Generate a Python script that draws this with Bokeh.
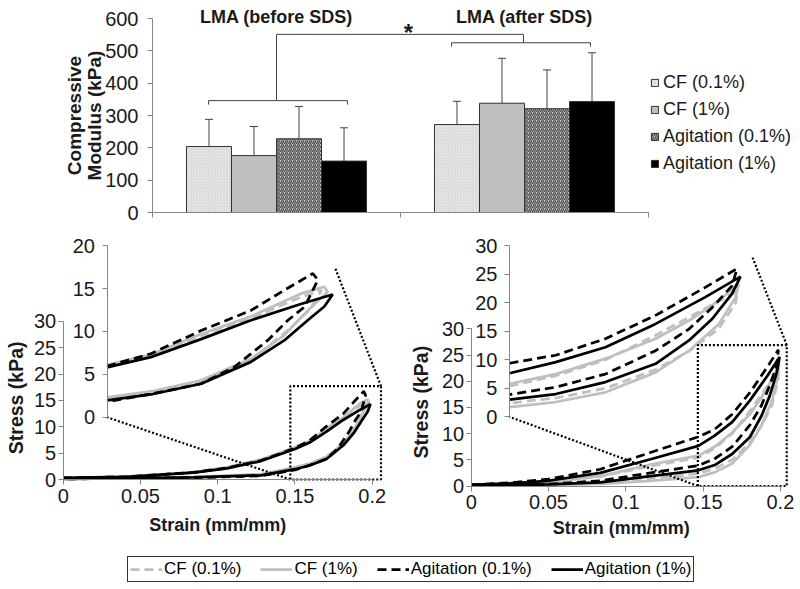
import math
import numpy as np
from bokeh.plotting import figure
from bokeh.layouts import column, row
from bokeh.models import (ColumnDataSource, Range1d, LinearAxis, FixedTicker, Legend,
                          LegendItem, Label, Whisker, TeeHead)
from bokeh.embed import file_html
from bokeh.resources import INLINE

# ------------------------------------------------------------------ bar chart data
groups = ["LMA (before SDS)", "LMA (after SDS)"]
series = ["CF (0.1%)", "CF (1%)", "Agitation (0.1%)", "Agitation (1%)"]
modulus_before = [204, 176, 228, 159]
modulus_after = [272, 338, 321, 343]
sd_before = [84, 90, 100, 103]
sd_after = [72, 139, 120, 151]
modulus_ticks = [0, 100, 200, 300, 400, 500, 600]

# significance brackets (x in group units, y in kPa)
bracket_before_x = [0.226, 0.786]
bracket_after_x = [1.206, 1.766]
bracket_link_x = [0.5, 1.496]
bracket_before_y = 346
bracket_after_y = 525
bracket_link_y = 551
bracket_drop = 12

# ------------------------------------------------------------------ stress-strain data (loading then unloading)
cf01_before_strain = [0, 0.041, 0.0845, 0.106, 0.128, 0.15, 0.1595, 0.1704, 0.1812, 0.192, 0.1965,
                      0.1955, 0.1935, 0.19, 0.1812, 0.1704, 0.1595, 0.15, 0.128, 0.0845, 0.04, 0]
cf01_before_stress = [0.3, 0.5, 1.35, 2.2, 3.7, 6.0, 7.2, 9.5, 11.5, 14.0, 14.8,
                      13.8, 12.3, 10.5, 6.6, 4.2, 2.9, 2.2, 0.9, 0.45, 0.25, 0.1]
cf1_before_strain = [0, 0.02, 0.041, 0.0845, 0.106, 0.128, 0.15, 0.1595, 0.1704, 0.1812, 0.192, 0.1971,
                     0.1978, 0.1935, 0.1884, 0.1812, 0.1704, 0.1595, 0.15, 0.128, 0.0845, 0.04, 0]
cf1_before_stress = [0.3, 0.4, 0.55, 1.4, 2.3, 3.8, 6.1, 7.3, 9.7, 11.75, 14.4, 15.2,
                     14.6, 12.45, 9.55, 6.8, 4.3, 3.0, 2.3, 1.0, 0.5, 0.3, 0.15]
ag01_before_strain = [0, 0.02, 0.041, 0.0845, 0.106, 0.128, 0.15, 0.1595, 0.1704, 0.1812, 0.1884, 0.1946,
                      0.1957, 0.1928, 0.1892, 0.1848, 0.1776, 0.1704, 0.1595, 0.15, 0.128, 0.0845, 0.04, 0]
ag01_before_stress = [0.3, 0.4, 0.5, 1.35, 2.2, 3.6, 5.95, 7.4, 10.1, 12.45, 14.8, 16.75,
                      16.0, 12.85, 11.3, 8.95, 5.85, 3.9, 2.7, 1.8, 0.7, 0.35, 0.2, 0.1]
ag1_before_strain = [0, 0.02, 0.041, 0.0845, 0.106, 0.128, 0.15, 0.1595, 0.1704, 0.1812, 0.192, 0.1989,
                     0.1971, 0.1935, 0.1884, 0.1812, 0.1704, 0.1595, 0.15, 0.128, 0.0845, 0.04, 0]
ag1_before_stress = [0.3, 0.4, 0.5, 1.3, 2.1, 3.5, 5.8, 7.0, 9.1, 11.3, 13.2, 14.3,
                     12.9, 11.3, 8.95, 6.45, 3.9, 2.65, 1.95, 0.8, 0.4, 0.2, 0.1]

cf01_after_strain = [0, 0.025, 0.05, 0.0835, 0.116, 0.147, 0.1575, 0.1688, 0.1802, 0.1915, 0.1987,
                     0.1984, 0.1946, 0.1878, 0.1802, 0.1688, 0.1575, 0.147, 0.116, 0.0835, 0.05, 0.025, 0]
cf01_after_stress = [0.2, 0.4, 0.75, 1.8, 3.8, 5.4, 7.2, 10.0, 14.3, 19.0, 22.0,
                     20.0, 15.5, 11.5, 8.3, 5.0, 3.3, 2.4, 1.4, 0.5, 0.25, 0.1, 0.05]
cf1_after_strain = [0, 0.025, 0.05, 0.0835, 0.116, 0.147, 0.1575, 0.1688, 0.1802, 0.1878, 0.1946, 0.1991,
                    0.1984, 0.1946, 0.1878, 0.1802, 0.1688, 0.1575, 0.147, 0.116, 0.0835, 0.05, 0.025, 0]
cf1_after_stress = [0.2, 0.4, 0.8, 1.9, 4.1, 5.8, 7.5, 10.2, 13.7, 16.9, 20.4, 23.3,
                    21.0, 16.3, 11.6, 7.8, 4.3, 2.6, 1.7, 1.0, 0.4, 0.2, 0.1, 0.05]
ag01_after_strain = [0, 0.025, 0.05, 0.0835, 0.116, 0.147, 0.1575, 0.1688, 0.1802, 0.1915, 0.1987,
                     0.1976, 0.1931, 0.1878, 0.1802, 0.1688, 0.1575, 0.147, 0.116, 0.0835, 0.05, 0.025, 0]
ag01_after_stress = [0.2, 0.6, 1.3, 3.2, 6.4, 9.4, 10.8, 13.7, 17.8, 22.7, 26.0,
                     23.0, 19.2, 15.4, 11.6, 7.5, 5.2, 3.9, 2.5, 1.0, 0.35, 0.15, 0.1]
ag1_after_strain = [0, 0.025, 0.05, 0.0835, 0.116, 0.147, 0.1575, 0.1688, 0.1802, 0.1915, 0.1995,
                    0.1976, 0.1931, 0.1878, 0.1802, 0.1688, 0.1575, 0.147, 0.116, 0.0835, 0.05, 0.025, 0]
ag1_after_stress = [0.2, 0.5, 1.0, 2.5, 5.1, 7.65, 9.6, 12.2, 16.3, 21.0, 24.6,
                    21.6, 17.2, 13.4, 9.3, 6.1, 4.0, 3.0, 1.9, 0.7, 0.3, 0.15, 0.1]

strain_ticks = [0, 0.05, 0.1, 0.15, 0.2]
strain_tick_labels = ["0", "0.05", "0.1", "0.15", "0.2"]
stress_ticks = [0, 5, 10, 15, 20, 25, 30]

# ------------------------------------------------------------------ styles
FONT = "Liberation Sans"
AXIS_GRAY = "#868686"
TXT = "#1a1a1a"
GRAY = "#bfbfbf"
TICK_FS = "20px"
CURVE_W = 2.75
DASH = "9 5"
line_styles = [
    dict(line_color=GRAY, line_dash=DASH),
    dict(line_color=GRAY),
    dict(line_color="#000000", line_dash=DASH),
    dict(line_color="#000000"),
]
bar_styles = [
    dict(fill_color="#ececec", hatch_pattern="right_diagonal_line", hatch_color="#c6c6c6",
         hatch_scale=3, hatch_weight=0.6),
    dict(fill_color="#bfbfbf"),
    dict(fill_color="#c4c4c4", hatch_pattern="right_diagonal_line", hatch_color="#4a4a4a",
         hatch_scale=4, hatch_weight=1.2),
    dict(fill_color="#000000"),
]


def style_axis(ax, size=TICK_FS):
    ax.axis_line_color = AXIS_GRAY
    ax.major_tick_line_color = AXIS_GRAY
    ax.minor_tick_line_color = None
    ax.major_tick_in = 0
    ax.major_tick_out = 5
    ax.major_label_text_font = FONT
    ax.major_label_text_font_size = size
    ax.major_label_text_color = TXT


def bold_label(p, x, y, text, size="18px", angle=0.0):
    p.add_layout(Label(x=x, y=y, text=text, angle=angle, text_font=FONT, text_font_style="bold",
                       text_font_size=size, text_color=TXT, text_align="center",
                       text_baseline="middle"))


def full_frame_figure(w, h, x0px, y0px, kx, ky):
    """Figure whose frame fills the canvas; data 0 sits at (x0px, y0px) from top-left."""
    p = figure(frame_width=w, frame_height=h, min_border=0,
               x_range=Range1d(-x0px / kx, (w - x0px) / kx),
               y_range=Range1d(-(h - y0px) / ky, y0px / ky),
               x_axis_location=None, y_axis_location=None,
               toolbar_location=None, output_backend="svg")
    p.outline_line_color = None
    p.grid.visible = False
    return p


# ------------------------------------------------------------------ top bar chart
n_groups = len(groups)
top = full_frame_figure(800, 232, 152, 212, 248, 0.3233)
yax = LinearAxis(fixed_location=0, bounds=(modulus_ticks[0], modulus_ticks[-1]),
                 ticker=FixedTicker(ticks=modulus_ticks))
style_axis(yax)
yax.major_label_standoff = 9
top.add_layout(yax, "left")
xax = LinearAxis(fixed_location=0, bounds=(0, n_groups),
                 ticker=FixedTicker(ticks=list(range(n_groups + 1))))
style_axis(xax)
xax.major_label_overrides = {i: "" for i in range(n_groups + 1)}
top.add_layout(xax, "below")

bar_w = 0.1815
legend_items = []
for i, name in enumerate(series):
    xs = [g + 0.5 + (i - 1.5) * bar_w for g in range(n_groups)]
    vals = [modulus_before[i], modulus_after[i]]
    sds = [sd_before[i], sd_after[i]]
    src = ColumnDataSource(dict(x=xs, top=vals, upper=[v + s for v, s in zip(vals, sds)]))
    r = top.vbar(x="x", top="top", width=bar_w, source=src, line_color="#303030",
                 line_width=1, **bar_styles[i])
    top.add_layout(Whisker(base="x", upper="upper", lower="top", source=src,
                           line_color="#404040", line_width=1,
                           upper_head=TeeHead(size=8, line_color="#404040", line_width=1),
                           lower_head=None))
    legend_items.append(LegendItem(label=name, renderers=[r]))

top.add_layout(Legend(items=legend_items, location=(650, 58), orientation="vertical",
                      glyph_width=9, glyph_height=9, label_standoff=4, spacing=6, padding=0,
                      margin=0, label_height=20, label_text_font=FONT,
                      label_text_font_size="18px", label_text_color=TXT,
                      border_line_color=None, background_fill_alpha=0))

d = bracket_drop
top.multi_line(
    xs=[[bracket_before_x[0], bracket_before_x[0], bracket_before_x[1], bracket_before_x[1]],
        [bracket_after_x[0], bracket_after_x[0], bracket_after_x[1], bracket_after_x[1]],
        [bracket_link_x[0], bracket_link_x[0], bracket_link_x[1], bracket_link_x[1]]],
    ys=[[bracket_before_y - d, bracket_before_y, bracket_before_y, bracket_before_y - d],
        [bracket_after_y - d, bracket_after_y, bracket_after_y, bracket_after_y - d],
        [bracket_before_y, bracket_link_y, bracket_link_y, bracket_after_y]],
    line_color="#404040", line_width=1)

for g, name in enumerate(groups):
    bold_label(top, g + 0.5, 606, name, "18px")
top.add_layout(Label(x=1.032, y=558, text="*", text_font=FONT, text_font_style="bold",
                     text_font_size="24px", text_color=TXT, text_align="center",
                     text_baseline="alphabetic"))
bold_label(top, -0.3145, 300, "Compressive", "19px", math.pi / 2)
bold_label(top, -0.234, 300, "Modulus (kPa)", "19px", math.pi / 2)


# ------------------------------------------------------------------ stress-strain panels
def stress_panel(curves, cfg):
    p = full_frame_figure(cfg["w"], cfg["h"], cfg["x0px"], cfg["y0px"], cfg["kx"], cfg["ky"])
    xs0, xe0 = p.x_range.start, p.x_range.end
    ys0, ye0 = p.y_range.start, p.y_range.end

    xax = LinearAxis(fixed_location=0, bounds=(strain_ticks[0], strain_ticks[-1]),
                     ticker=FixedTicker(ticks=strain_ticks))
    style_axis(xax)
    xax.major_label_overrides = dict(zip(strain_ticks, strain_tick_labels))
    xax.major_label_standoff = 4
    p.add_layout(xax, "below")
    yax = LinearAxis(fixed_location=0, bounds=(stress_ticks[0], stress_ticks[-1]),
                     ticker=FixedTicker(ticks=stress_ticks))
    style_axis(yax)
    yax.major_label_standoff = 2
    p.add_layout(yax, "left")

    # inset: its own ranges spanning the same frame
    ox, oy = cfg["origin"]
    rx, ry = cfg["zoom"]
    xl = cfg["x0"]
    p.extra_x_ranges = {"ix": Range1d(xl + (xs0 - ox) / rx, xl + (xe0 - ox) / rx)}
    p.extra_y_ranges = {"iy": Range1d((ys0 - oy) / ry, (ye0 - oy) / ry)}
    iax = LinearAxis(y_range_name="iy", fixed_location=ox,
                     ticker=FixedTicker(ticks=cfg["inset_ticks"]),
                     bounds=(cfg["inset_ticks"][0], cfg["inset_ticks"][-1]))
    style_axis(iax)
    iax.major_label_standoff = 7
    p.add_layout(iax, "left")

    for (xs, ys), st in zip(curves, line_styles):
        p.line(xs, ys, line_width=CURVE_W, **st)
    for (xs, ys), st in zip(curves, line_styles):
        pts = [(x, y) for x, y in zip(xs, ys) if x >= xl - 1e-9]
        p.line([q[0] for q in pts], [q[1] for q in pts], line_width=CURVE_W,
               x_range_name="ix", y_range_name="iy", **st)

    bx0, bx1, by0, by1 = cfg["box"]
    (cx, cy) = cfg["corner"]
    p.multi_line(xs=[[bx0, bx0, bx1, bx1, bx0], [bx0, ox], [bx1, cx]],
                 ys=[[by0, by1, by1, by0, by0], [by0, oy], [by1, cy]],
                 line_color="#000000", line_width=2.2, line_dash="2 2")

    sx, sy = cfg["ylab"]
    bold_label(p, sx, sy, "Stress (kPa)", "19.5px", math.pi / 2)
    tx, ty = cfg["xlab"]
    bold_label(p, tx, ty, "Strain (mm/mm)", "18px")
    return p


left_cfg = dict(w=400, h=308, x0px=62.7, y0px=247, kx=1545, ky=5.27,
                origin=(0.02835, 11.82), zoom=(2.987, 1.628), x0=0.150,
                inset_ticks=[0, 5, 10, 15, 20],
                box=(0.147, 0.2057, 0, 17.7), corner=(0.1762, 40.0),
                ylab=(-0.0304, 15.5), xlab=(0.1, -8.7))
right_cfg = dict(w=400, h=308, x0px=70.7, y0px=253.5, kx=1546, ky=5.24,
                 origin=(0.02477, 13.2), zoom=(2.846, 1.088), x0=0.147,
                 inset_ticks=[0, 5, 10, 15, 20, 25, 30],
                 box=(0.1466, 0.2041, 0, 26.9), corner=(0.182, 43.6),
                 ylab=(-0.0323, 16.0), xlab=(0.097, -8.0))

left = stress_panel([(cf01_before_strain, cf01_before_stress),
                     (cf1_before_strain, cf1_before_stress),
                     (ag01_before_strain, ag01_before_stress),
                     (ag1_before_strain, ag1_before_stress)], left_cfg)
right = stress_panel([(cf01_after_strain, cf01_after_stress),
                      (cf1_after_strain, cf1_after_stress),
                      (ag01_after_strain, ag01_after_stress),
                      (ag1_after_strain, ag1_after_stress)], right_cfg)

# ------------------------------------------------------------------ shared legend
lf = figure(frame_width=800, frame_height=49, min_border=0,
            x_range=Range1d(0, 1), y_range=Range1d(0, 1),
            x_axis_location=None, y_axis_location=None,
            toolbar_location=None, output_backend="svg")
lf.outline_line_color = None
lf.grid.visible = False
items = []
for name, st in zip(series, line_styles):
    r = lf.line(np.array([np.nan]), np.array([np.nan]), line_width=CURVE_W, **st)
    items.append(LegendItem(label=name, renderers=[r]))
lf.add_layout(Legend(items=items, location=(127, 7), orientation="horizontal",
                     glyph_width=32, glyph_height=14, label_height=14, label_standoff=2,
                     spacing=19, padding=2, margin=0, label_text_font=FONT,
                     label_text_font_size="17px", label_text_color="#000000",
                     border_line_color="#333333", border_line_width=1, border_line_alpha=1,
                     background_fill_color="white", background_fill_alpha=1))

layout = column(top, row(left, right), lf)
open("out.html", "w").write(file_html(layout, INLINE))
